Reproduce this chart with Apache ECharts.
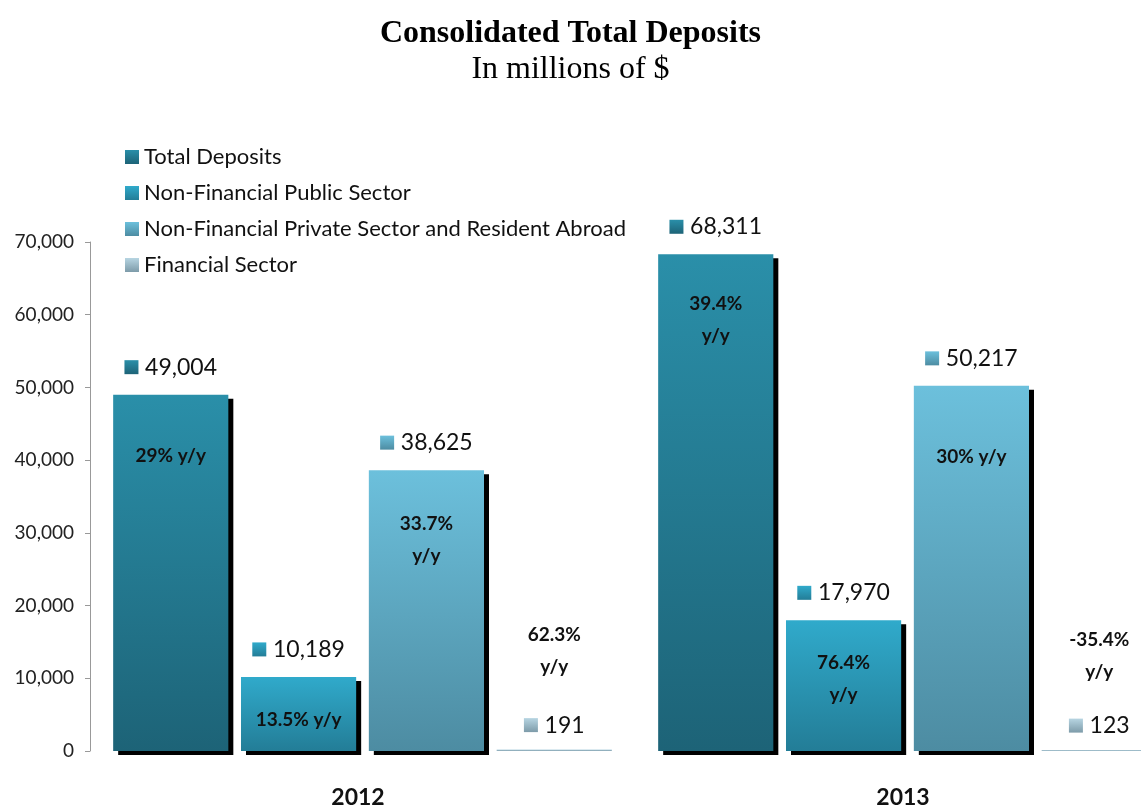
<!DOCTYPE html>
<html>
<head>
<meta charset="utf-8">
<title>Consolidated Total Deposits</title>
<script src="https://cdn.jsdelivr.net/npm/echarts@6/dist/echarts.min.js"></script>
<style>
  html, body { margin: 0; padding: 0; background: #fff; }
  #chart { width: 1141px; height: 806px; }
</style>
</head>
<body>
<div id="chart"></div>
<script>
// ---- Data (millions of $) ----
const years = ['2012', '2013'];
const seriesNames = [
  'Total Deposits',
  'Non-Financial Public Sector',
  'Non-Financial Private Sector and Resident Abroad',
  'Financial Sector'
];
const totalDeposits = [49004, 68311];
const publicSector = [10189, 17970];
const privateSector = [38625, 50217];
const financialSector = [191, 123];

// year-over-year growth, %
const totalYoY = [29, 39.4];
const publicYoY = [13.5, 76.4];
const privateYoY = [33.7, 30];
const financialYoY = [62.3, -35.4];

const yTicks = { min: 0, max: 70000, interval: 10000 };

// ---- Styling ----
function vGrad(top, bottom) {
  return new echarts.graphic.LinearGradient(0, 0, 0, 1, [
    { offset: 0, color: top },
    { offset: 1, color: bottom }
  ]);
}
const palette = [
  ['#2a8fa9', '#1d6377'],
  ['#30aacb', '#237d97'],
  ['#6cc0dc', '#4d8ca2'],
  ['#b7d5e2', '#7d9ba9']
];

// pixel offset of each growth note below the bar top, and whether it wraps
const yoyLayout = [
  [{ dy: 61, wrap: false }, { dy: 66, wrap: true }],
  [{ dy: 43, wrap: false }, { dy: 59, wrap: true }],
  [{ dy: 70, wrap: true }, { dy: 71, wrap: false }],
  [{ dy: -99, wrap: true }, { dy: -94, wrap: true }]
];

const values = [totalDeposits, publicSector, privateSector, financialSector];
const growth = [totalYoY, publicYoY, privateYoY, financialYoY];

const fmt = v => v.toLocaleString('en-US');

const series = seriesNames.map((name, s) => {
  const grad = vGrad(palette[s][0], palette[s][1]);
  const hasShadow = s < 3;
  return {
    name: name,
    type: 'bar',
    data: values[s],
    itemStyle: {
      color: grad,
      shadowColor: hasShadow ? '#000' : 'transparent',
      shadowOffsetX: hasShadow ? 5 : 0,
      shadowOffsetY: hasShadow ? 4 : 0,
      shadowBlur: 0
    },
    label: {
      show: true,
      position: 'top',
      distance: hasShadow ? 16 : 13,
      formatter: p => '{sq|}  {v|' + fmt(p.value) + '}',
      rich: {
        sq: { width: 14, height: 14, backgroundColor: grad },
        v: { fontSize: 23, fontFamily: 'Lato', color: '#111' }
      }
    },
    markPoint: {
      symbol: 'rect',
      symbolSize: 0,
      data: values[s].map((v, i) => {
        const lay = yoyLayout[s][i];
        const txt = growth[s][i] + '%' + (lay.wrap ? '\n' : ' ') + 'y/y';
        return {
          coord: [i, v],
          label: {
            show: true,
            position: 'inside',
            offset: [0, lay.dy],
            formatter: txt,
            fontFamily: 'Lato',
            fontWeight: 'bold',
            fontSize: 19,
            lineHeight: 32,
            color: '#111',
            align: 'center'
          }
        };
      })
    }
  };
});

const chart = echarts.init(document.getElementById('chart'), null, { renderer: 'canvas' });
chart.setOption({
  backgroundColor: '#fff',
  animation: false,
  title: {
    text: 'Consolidated Total Deposits',
    subtext: 'In millions of $',
    left: 'center',
    top: 13,
    itemGap: 4,
    textStyle: { fontFamily: 'Liberation Serif', fontWeight: 'bold', fontSize: 32, color: '#000' },
    subtextStyle: { fontFamily: 'Liberation Serif', fontSize: 32, color: '#000' }
  },
  legend: {
    orient: 'vertical',
    left: 120,
    top: 141,
    itemWidth: 14,
    itemHeight: 14,
    itemGap: 14,
    icon: 'rect',
    selectedMode: false,
    textStyle: { fontFamily: 'Lato', fontSize: 22, color: '#111' },
    data: seriesNames
  },
  // the second year's last bar runs past the right edge of the page
  grid: {
    left: 90, width: 1090, top: 242, bottom: 55,
    containLabel: false,
    outerBoundsMode: 'none'
  },
  xAxis: {
    type: 'category',
    data: years,
    axisLine: { show: false },
    axisTick: { show: false },
    axisLabel: {
      margin: 35,
      padding: [0, 9, 0, 0],
      fontFamily: 'Lato',
      fontWeight: 'bold',
      fontSize: 23,
      color: '#111'
    }
  },
  yAxis: {
    type: 'value',
    min: yTicks.min,
    max: yTicks.max,
    interval: yTicks.interval,
    splitLine: { show: false },
    axisLine: { show: true, lineStyle: { color: '#999', width: 1 } },
    axisTick: { show: true, length: 5, lineStyle: { color: '#999' } },
    axisLabel: {
      margin: 16,
      fontFamily: 'Lato',
      fontSize: 19,
      color: '#222',
      formatter: v => fmt(v)
    }
  },
  barGap: '11%',
  barCategoryGap: '8.5%',
  series: series
});
</script>
</body>
</html>
